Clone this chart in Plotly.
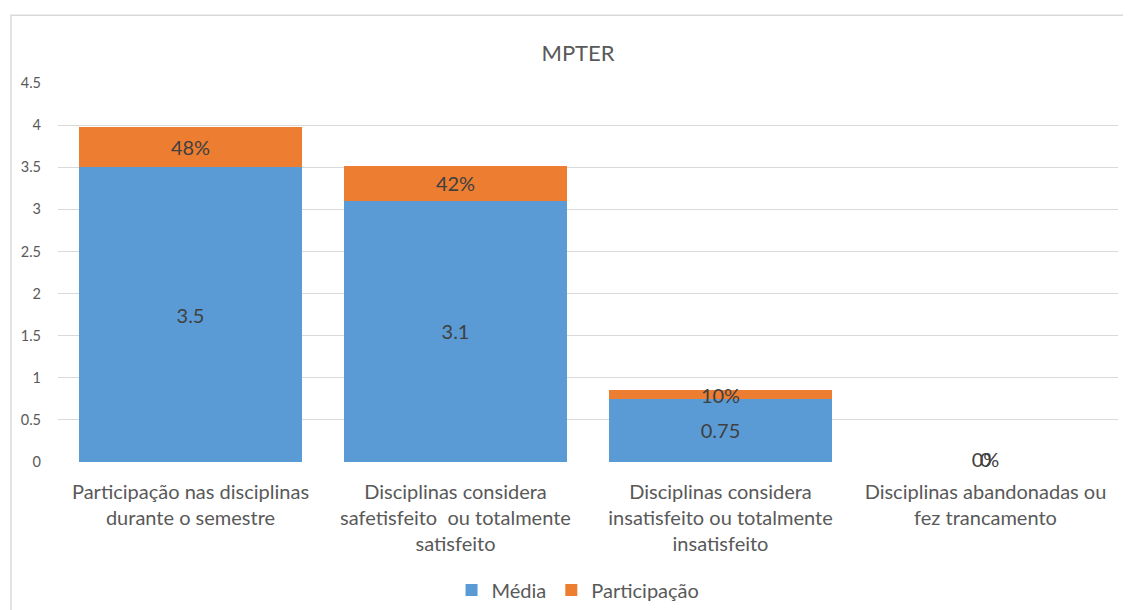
import plotly.graph_objects as go

categories = [
    "Participação nas disciplinas<br>durante o semestre",
    "Disciplinas considera<br>safetisfeito  ou totalmente<br>satisfeito",
    "Disciplinas considera<br>insatisfeito ou totalmente<br>insatisfeito",
    "Disciplinas abandonadas ou<br>fez trancamento",
]
media = [3.5, 3.1, 0.75, 0]
participacao = [0.48, 0.42, 0.10, 0]
media_labels = ["3.5", "3.1", "0.75", "0"]
part_labels = ["48%", "42%", "10%", "0%"]
y_ticks = [0, 0.5, 1, 1.5, 2, 2.5, 3, 3.5, 4, 4.5]

BLUE = "#5B9BD5"
ORANGE = "#ED7D31"
FONT = "Lato"
GRAY = "#595959"
TXT = "#404040"

fig = go.Figure()
fig.add_trace(go.Bar(
    x=categories, y=media, name="Média", marker_color=BLUE,
    text=[t if v > 0 else "" for t, v in zip(media_labels, media)],
    textposition="inside", insidetextanchor="middle",
    textfont=dict(size=20, color=TXT, family=FONT),
    constraintext="none",
    marker_line_width=0,
))
fig.add_trace(go.Bar(
    x=categories, y=participacao, name="Participação", marker_color=ORANGE,
    text=[t if v > 0 else "" for t, v in zip(part_labels, participacao)],
    textposition="inside", insidetextanchor="middle",
    textfont=dict(size=20, color=TXT, family=FONT),
    constraintext="none",
    marker_line_width=0,
))
# labels for zero-valued bars (drawn at the baseline, overlapping as in the original)
for vals, labels in ((media, media_labels), (participacao, part_labels)):
    zx = [c for c, v in zip(categories, vals) if v == 0]
    zt = [t for t, v in zip(labels, vals) if v == 0]
    fig.add_trace(go.Scatter(
        x=zx, y=[0] * len(zx), text=zt, mode="text", textposition="middle center",
        textfont=dict(size=20, color=TXT, family=FONT), showlegend=False, hoverinfo="skip",
        cliponaxis=False,
    ))

fig.update_layout(
    barmode="stack",
    bargap=0.16,
    width=1123, height=602,
    margin=dict(l=50, r=13, t=75, b=148, autoexpand=False),
    plot_bgcolor="white", paper_bgcolor="white",
    font=dict(family=FONT, color=GRAY),
    title=dict(text="MPTER", x=0.4906, xref="paper", y=0.925, yanchor="middle",
               font=dict(size=22, color=GRAY, family=FONT), automargin=False),
    legend=dict(orientation="h", x=0.4906, xanchor="center", xref="paper",
                y=-0.338, yanchor="middle", font=dict(size=20, color=GRAY, family=FONT),
                itemsizing="constant", traceorder="normal"),
)
fig.update_yaxes(range=[0, 4.5], tickvals=y_ticks, ticktext=[f"{t:g}" for t in y_ticks],
                 showgrid=True, gridcolor="#D9D9D9", gridwidth=1, zeroline=False,
                 tickfont=dict(size=14.5, color=GRAY, family=FONT), ticks="", ticklabelstandoff=16,
                 showline=False, automargin=False)
fig.update_xaxes(showgrid=False, showline=False, ticks="", automargin=False,
                 tickfont=dict(size=20, color=GRAY, family=FONT), tickangle=0,
                 ticklabelstandoff=16)
fig.add_shape(type="rect", xref="paper", yref="paper", x0=-0.0443, x1=1.05, y0=-0.6, y1=1.179,
              line=dict(color="#D9D9D9", width=1.5), fillcolor="rgba(0,0,0,0)", layer="below")

fig.write_html("out.html")
